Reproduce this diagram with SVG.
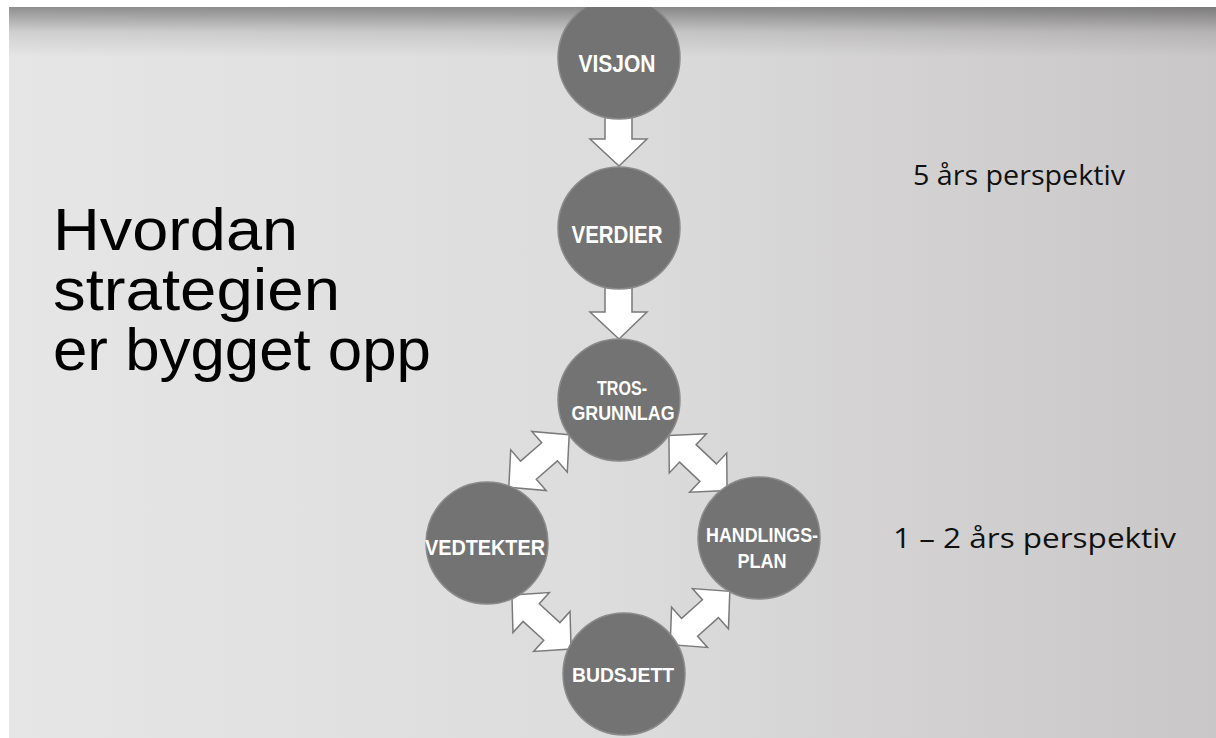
<svg xmlns="http://www.w3.org/2000/svg" width="1216" height="738" viewBox="0 0 1216 738">
<defs>
<linearGradient id="bg" x1="0" y1="0" x2="1" y2="0">
<stop offset="0" stop-color="#e6e6e6"/>
<stop offset="0.5" stop-color="#dddcdc"/>
<stop offset="1" stop-color="#c9c7c7"/>
</linearGradient>
<linearGradient id="shade" x1="0" y1="0" x2="0" y2="1">
<stop offset="0" stop-color="#000" stop-opacity="0.38"/>
<stop offset="0.5" stop-color="#000" stop-opacity="0.1"/>
<stop offset="1" stop-color="#000" stop-opacity="0"/>
</linearGradient>
<clipPath id="area"><rect x="9" y="7" width="1207" height="731"/></clipPath>
<path id="dbl" d="M-40,0 L-14,-27 L-14,-12 L14,-12 L14,-27 L40,0 L14,27 L14,12 L-14,12 L-14,27 Z"/>
</defs>
<style>
.node{fill:#737373;stroke:#8a8a8a;stroke-width:1.5}
.lbl{font-family:"Liberation Sans",Arial,sans-serif;font-weight:bold;fill:#ffffff;text-anchor:middle}
.arr{fill:#ffffff;stroke:#7a7a7a;stroke-width:1.5;stroke-linejoin:miter}
.title{font-family:"Liberation Sans",Arial,sans-serif;font-size:60px;fill:#000000}
.side{font-family:"Open Sans","Noto Sans",sans-serif;font-size:27px;fill:#111111}
</style>
<rect x="0" y="0" width="1216" height="738" fill="#ffffff"/>
<g clip-path="url(#area)">
<rect x="9" y="7" width="1207" height="731" fill="url(#bg)"/>
<rect x="9" y="7" width="1207" height="50" fill="url(#shade)"/>

<g id="title">
<text class="title" x="53" y="250" textLength="245" lengthAdjust="spacingAndGlyphs">Hvordan</text>
<text class="title" x="53" y="310" textLength="287" lengthAdjust="spacingAndGlyphs">strategien</text>
<text class="title" x="53" y="370" textLength="378" lengthAdjust="spacingAndGlyphs">er bygget opp</text>
</g>
<g id="labels-right">
<text class="side" x="913" y="185" textLength="212" lengthAdjust="spacingAndGlyphs">5 års perspektiv</text>
<text class="side" x="893" y="548" textLength="283" lengthAdjust="spacingAndGlyphs">1 – 2 års perspektiv</text>
</g>

<g id="connectors">
<path class="arr" d="M605,112 L632,112 L632,139 L647,139 L619,166 L590,139 L605,139 Z"/>
<path class="arr" d="M605,284 L632,284 L632,312 L647,312 L619,339 L590,312 L605,312 Z"/>
<use href="#dbl" class="arr" transform="translate(539,461) rotate(-41)"/>
<use href="#dbl" class="arr" transform="translate(698,463) rotate(43.4)"/>
<use href="#dbl" class="arr" transform="translate(541.5,622) rotate(42.4)"/>
<use href="#dbl" class="arr" transform="translate(700,618) rotate(-41.8)"/>
</g>

<g id="visjon">
<circle class="node" cx="619" cy="58" r="61"/>
<text class="lbl" x="617" y="72" font-size="24" textLength="77" lengthAdjust="spacingAndGlyphs">VISJON</text>
</g>
<g id="verdier">
<circle class="node" cx="619" cy="228" r="61"/>
<text class="lbl" x="617" y="243" font-size="24" textLength="91" lengthAdjust="spacingAndGlyphs">VERDIER</text>
</g>
<g id="trosgrunnlag">
<circle class="node" cx="619" cy="400" r="61"/>
<text class="lbl" x="622" y="395" font-size="21" textLength="50" lengthAdjust="spacingAndGlyphs">TROS-</text>
<text class="lbl" x="623" y="420" font-size="21" textLength="103" lengthAdjust="spacingAndGlyphs">GRUNNLAG</text>
</g>
<g id="vedtekter">
<circle class="node" cx="487" cy="543" r="61"/>
<text class="lbl" x="485" y="555" font-size="22" textLength="120" lengthAdjust="spacingAndGlyphs">VEDTEKTER</text>
</g>
<g id="handlingsplan">
<circle class="node" cx="759" cy="538" r="61"/>
<text class="lbl" x="762" y="542" font-size="21" textLength="112" lengthAdjust="spacingAndGlyphs">HANDLINGS-</text>
<text class="lbl" x="762" y="568" font-size="21" textLength="49" lengthAdjust="spacingAndGlyphs">PLAN</text>
</g>
<g id="budsjett">
<circle class="node" cx="624" cy="674" r="61"/>
<text class="lbl" x="623" y="682" font-size="21" textLength="102" lengthAdjust="spacingAndGlyphs">BUDSJETT</text>
</g>
</g>
</svg>
